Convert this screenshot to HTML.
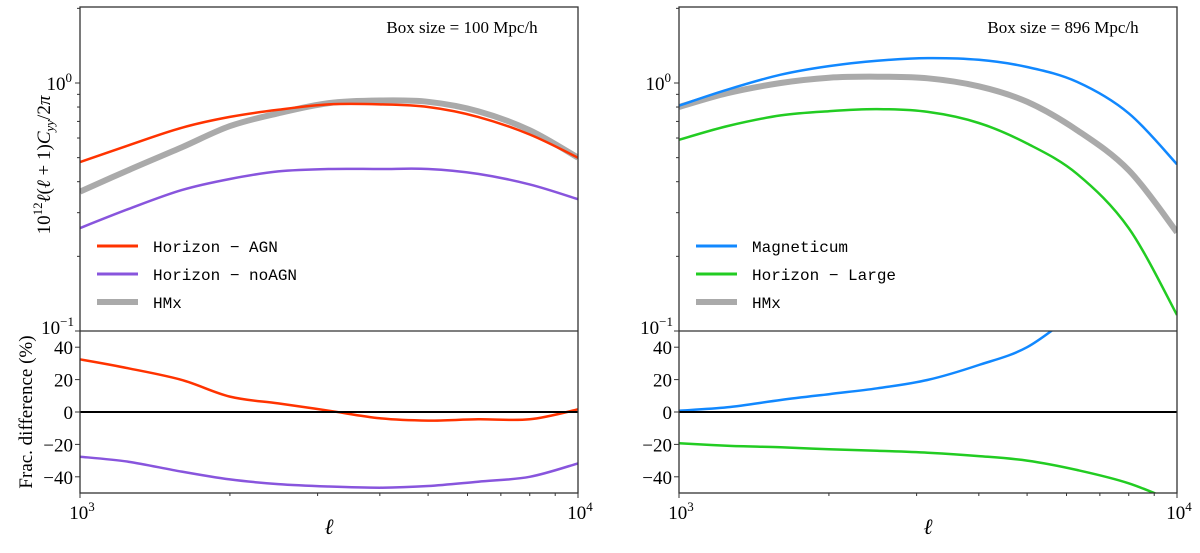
<!DOCTYPE html>
<html><head><meta charset="utf-8"><style>
html,body{margin:0;padding:0;background:#fff;}
svg text{font-family:"Liberation Serif",serif;fill:#000;}
.mono{font-family:"Liberation Mono",monospace;}
</style></head><body>
<svg id="chart" width="1200" height="548" viewBox="0 0 1200 548" xmlns="http://www.w3.org/2000/svg"></svg>
<script>
const ells = [1000,1250,1600,2000,2500,3160,4000,5000,6300,8000,10000];
const agnTop = [0.48,0.56,0.66,0.73,0.78,0.82,0.82,0.80,0.73,0.62,0.50];
const hmxLeft = [0.365,0.445,0.55,0.67,0.755,0.83,0.85,0.84,0.77,0.645,0.50];
const noagnTop = [0.26,0.31,0.37,0.41,0.44,0.45,0.45,0.45,0.43,0.39,0.34];
const agnFrac = [32.5,27,19.8,9.5,5.3,0.8,-3.9,-5.3,-4.5,-4.5,1.6];
const noagnFrac = [-27.6,-30.7,-36.8,-41.6,-44.5,-46,-46.7,-45.7,-43,-40,-31.7];
const magTop = [0.81,0.94,1.08,1.17,1.23,1.26,1.24,1.16,1.01,0.755,0.47];
const hmxRight = [0.80,0.91,1.00,1.05,1.06,1.045,0.97,0.84,0.645,0.445,0.25];
const largeTop = [0.59,0.67,0.74,0.77,0.785,0.765,0.69,0.57,0.43,0.26,0.116];
const magFrac = [0.8,2.9,7.4,11,14.6,19.8,29,40,62,85,110];
const largeFrac = [-19.3,-20.8,-21.8,-23,-23.9,-25.1,-27.2,-30,-35.8,-44,-56];
const fracTicks = [40,20,0,-20,-40];

const NS="http://www.w3.org/2000/svg";
const svg=document.getElementById('chart');
function mk(tag,attrs,parent){const e=document.createElementNS(NS,tag);for(const k in attrs)e.setAttribute(k,attrs[k]);(parent||svg).appendChild(e);return e;}
const TOP=7, MID=331, BOT=493;
function yLog(v){return MID-(Math.log10(v)+1)*248;}
function yLin(v){return 412-v*1.62;}
function panel(x0,x1,name){
  const g=mk('g',{});
  
  
  const xs=l=>x0+(x1-x0)*Math.log10(l/1000);
  const cid='clip-'+name;
  const defs=mk('defs',{},g);
  const c1=mk('clipPath',{id:cid+'t'},defs);mk('rect',{x:x0,y:TOP,width:x1-x0,height:MID-TOP},c1);
  const c2=mk('clipPath',{id:cid+'b'},defs);mk('rect',{x:x0,y:MID,width:x1-x0,height:BOT-MID},c2);
  return {g,xs,ct:'url(#'+cid+'t)',cb:'url(#'+cid+'b)',x0,x1};
}
function line(p,vals,fy,color,w,clip,name){
  const pts=vals.map((v,i)=>[p.xs(ells[i]),fy(v)]);
  let d='M'+pts[0][0].toFixed(1)+','+pts[0][1].toFixed(1);
  for(let i=0;i<pts.length-1;i++){
    const p0=pts[Math.max(i-1,0)],p1=pts[i],p2=pts[i+1],p3=pts[Math.min(i+2,pts.length-1)];
    const c1=[p1[0]+(p2[0]-p0[0])/6,p1[1]+(p2[1]-p0[1])/6];
    const c2=[p2[0]-(p3[0]-p1[0])/6,p2[1]-(p3[1]-p1[1])/6];
    d+='C'+c1[0].toFixed(1)+','+c1[1].toFixed(1)+' '+c2[0].toFixed(1)+','+c2[1].toFixed(1)+' '+p2[0].toFixed(1)+','+p2[1].toFixed(1);
  }
  const e=mk('path',{d:d,fill:'none',stroke:color,'stroke-width':w,'clip-path':clip,'stroke-linejoin':'round'},p.g);
  
  
}
function frame(p){
  const g=p.g,x0=p.x0,x1=p.x1;
  const z=mk('line',{x1:x0,x2:x1,y1:yLin(0),y2:yLin(0),stroke:'#000','stroke-width':2},g);
  
  mk('rect',{x:x0,y:TOP,width:x1-x0,height:BOT-TOP,fill:'none',stroke:'#333','stroke-width':1.3},g);
  mk('line',{x1:x0,x2:x1,y1:MID,y2:MID,stroke:'#333','stroke-width':1.3},g);
  [0.1,1].forEach(v=>{mk('line',{x1:x0-5,x2:x0,y1:yLog(v),y2:yLog(v),stroke:'#333'},g);});
  [0.2,0.3,0.4,0.5,0.6,0.7,0.8,0.9,2].forEach(v=>{mk('line',{x1:x0-3,x2:x0,y1:yLog(v),y2:yLog(v),stroke:'#333'},g);});
  const t1=mk('text',{x:x0-8,y:yLog(1)+7,'font-size':19,'text-anchor':'end'},g);t1.innerHTML='10<tspan dy="-8" font-size="13">0</tspan>';
  
  const t2=mk('text',{x:x0-6,y:MID+3,'font-size':19,'text-anchor':'end'},g);t2.innerHTML='10<tspan dy="-8" font-size="13">−1</tspan>';
  
  fracTicks.forEach(v=>{
    mk('line',{x1:x0-5,x2:x0,y1:yLin(v),y2:yLin(v),stroke:'#333'},g);
    const t=mk('text',{x:x0-7,y:yLin(v)+7,'font-size':19,'text-anchor':'end'},g);
    t.textContent=v<0?'−'+(-v):String(v);
    
  });
  [1000,10000].forEach(l=>{mk('line',{x1:p.xs(l),x2:p.xs(l),y1:BOT,y2:BOT+5,stroke:'#333'},g);});
  for(let m=2;m<=9;m++){const x=p.xs(m*1000);mk('line',{x1:x,x2:x,y1:BOT,y2:BOT+3,stroke:'#333'},g);}
  [[1000,'3'],[10000,'4']].forEach(([l,e])=>{
    const t=mk('text',{x:p.xs(l)+2,y:BOT+26,'font-size':19,'text-anchor':'middle'},g);
    t.innerHTML='10<tspan dy="-8" font-size="13">'+e+'</tspan>';
    
  });
  const xl=mk('text',{x:(x0+x1)/2,y:534,'font-size':22,'font-style':'italic','text-anchor':'middle'},g);
  xl.textContent='ℓ';
}
function legend(p,items){
  const lg=mk('g',{},p.g);
  
  items.forEach((it,i)=>{
    const y=246+i*28;
    mk('line',{x1:p.x0+17,x2:p.x0+58,y1:y,y2:y,stroke:it[1],'stroke-width':it[2]},lg);
    const t=mk('text',{x:p.x0+73,y:y+6,'font-size':16,class:'mono'},lg);
    t.textContent=it[0];
  });
}
const L=panel(80,578,'left-panel');
line(L,hmxLeft,yLog,'#aaaaaa',6,L.ct,'hmx-line');
line(L,agnTop,yLog,'#ff3300',2.5,L.ct,'horizon-agn-line');
line(L,noagnTop,yLog,'#8855dd',2.5,L.ct,'horizon-noagn-line');
line(L,agnFrac,yLin,'#ff3300',2.5,L.cb,'horizon-agn-frac');
line(L,noagnFrac,yLin,'#8855dd',2.5,L.cb,'horizon-noagn-frac');
frame(L);
legend(L,[['Horizon − AGN','#ff3300',3],['Horizon − noAGN','#8855dd',3],['HMx','#aaaaaa',6]]);
const a1=mk('text',{x:462,y:33,'font-size':17,'text-anchor':'middle'},L.g);a1.textContent='Box size = 100 Mpc/h';

const yl=mk('text',{x:0,y:0,'font-size':19,'text-anchor':'middle',transform:'translate(50,165) rotate(-90)'},L.g);
yl.innerHTML='10<tspan dy="-8" font-size="13">12</tspan><tspan dy="8" font-style="italic">ℓ</tspan>(<tspan font-style="italic">ℓ</tspan> + 1)<tspan font-style="italic">C</tspan><tspan dy="4" font-size="13" font-style="italic">yy</tspan><tspan dy="-4">/2</tspan><tspan font-style="italic">π</tspan>';

const yl2=mk('text',{x:0,y:0,'font-size':19,'text-anchor':'middle',transform:'translate(32,412) rotate(-90)'},L.g);
yl2.textContent='Frac. difference (%)';

const R=panel(679,1177,'right-panel');
line(R,hmxRight,yLog,'#aaaaaa',6,R.ct,'hmx-line');
line(R,magTop,yLog,'#1188ff',2.5,R.ct,'magneticum-line');
line(R,largeTop,yLog,'#22cc22',2.5,R.ct,'horizon-large-line');
line(R,magFrac,yLin,'#1188ff',2.5,R.cb,'magneticum-frac');
line(R,largeFrac,yLin,'#22cc22',2.5,R.cb,'horizon-large-frac');
frame(R);
legend(R,[['Magneticum','#1188ff',3],['Horizon − Large','#22cc22',3],['HMx','#aaaaaa',6]]);
const a2=mk('text',{x:1063,y:33,'font-size':17,'text-anchor':'middle'},R.g);a2.textContent='Box size = 896 Mpc/h';

</script>
</body></html>
